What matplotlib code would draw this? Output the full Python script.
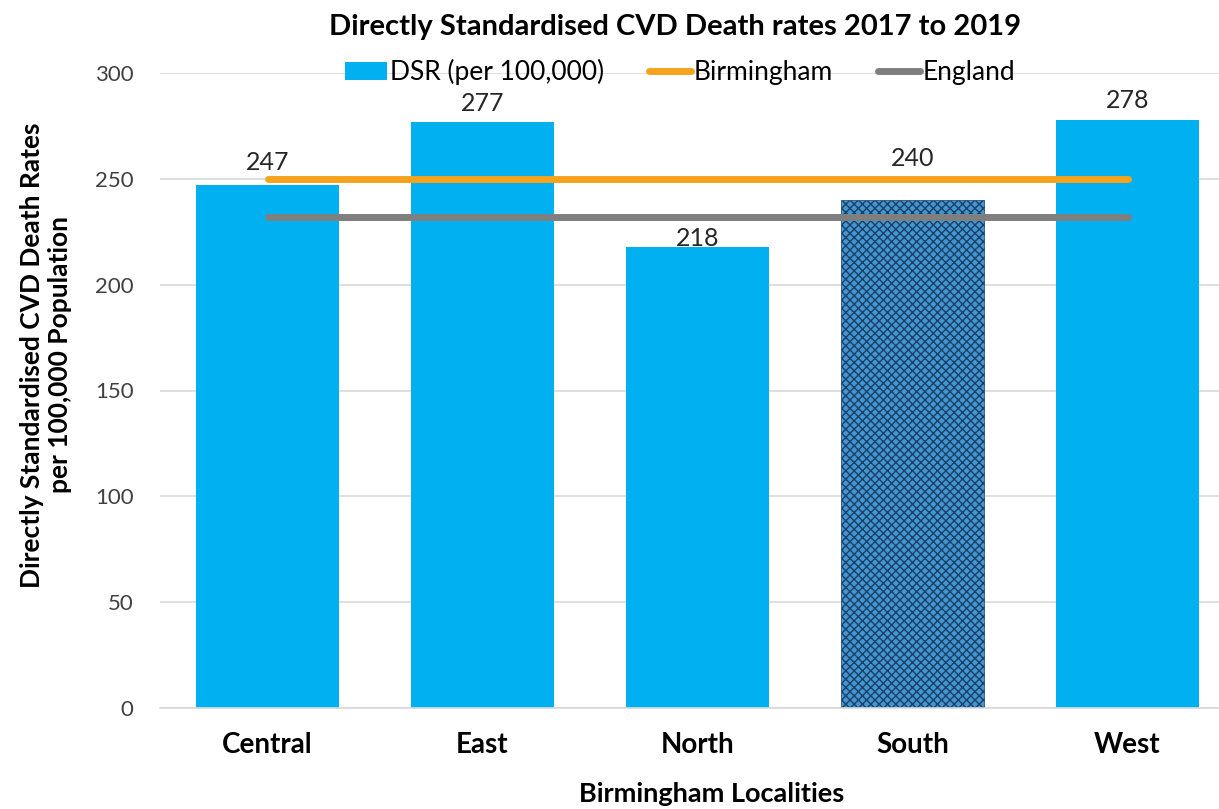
import matplotlib
matplotlib.use("Agg")
import matplotlib.pyplot as plt
import numpy as np

LOCALITIES = ["Central", "East", "North", "South", "West"]
DSR = [247, 277, 218, 240, 278]
BIRMINGHAM = [250, 250, 250, 250, 250]
ENGLAND = [232, 232, 232, 232, 232]
Y_TICKS = [0, 50, 100, 150, 200, 250, 300]

BAR_COLOR = "#00B0F0"
BHAM_COLOR = "#F5A31D"
ENG_COLOR = "#7F7F7F"
GRID_COLOR = "#D9D9D9"

# label offsets (points) so the text clears the reference lines
LABEL_OFFSETS = [16, 13, 6, 30, 14]

plt.rcParams["font.family"] = ["Lato", "DejaVu Sans"]

fig = plt.figure(figsize=(12.19, 8.09), dpi=100)
ax = fig.add_axes([160 / 1219, 1 - 708 / 809, 1 - 160 / 1219, (708 - 73) / 809])

x = np.arange(len(LOCALITIES))
width = 0.665
bars = ax.bar(x, DSR, width, color=BAR_COLOR, zorder=2, label="DSR (per 100,000)")
south = bars[LOCALITIES.index("South")]
south.set_facecolor("#4396CF")
south.set_edgecolor("#1B3F66")
south.set_hatch("xxxx")
south.set_linewidth(0.5)

ax.plot(x, BIRMINGHAM, color=BHAM_COLOR, lw=5, solid_capstyle="round",
        zorder=3, label="Birmingham")
ax.plot(x, ENGLAND, color=ENG_COLOR, lw=5, solid_capstyle="round",
        zorder=3, label="England")

for xi, val, off in zip(x, DSR, LABEL_OFFSETS):
    ax.annotate(f"{val}", xy=(xi, val), xytext=(0, off), textcoords="offset points",
                ha="center", va="center", fontsize=18, color="#262626", zorder=4)

ax.set_ylim(0, 300)
ax.set_xlim(-0.5, 4.5 - 16 / 215)
ax.set_yticks(Y_TICKS)
ax.set_yticklabels([str(t) for t in Y_TICKS], fontsize=16, color="#404040")
ax.set_xticks(x)
ax.set_xticklabels(LOCALITIES, fontsize=20, fontweight="bold", color="black")
ax.tick_params(axis="both", length=0)
ax.tick_params(axis="y", pad=19)
ax.tick_params(axis="x", pad=17)
ax.grid(axis="y", color=GRID_COLOR, lw=1.2, zorder=0)
ax.set_axisbelow(True)
for s in ["top", "right", "left"]:
    ax.spines[s].set_visible(False)
ax.spines["bottom"].set_color(GRID_COLOR)
ax.spines["bottom"].set_linewidth(1.2)

fig.text(712 / 1219, 1 - 794 / 809, "Birmingham Localities",
         ha="center", va="center", fontsize=19.5, fontweight="bold")
fig.text(46 / 1219, 1 - 355 / 809,
         "Directly Standardised CVD Death Rates\nper 100,000 Population",
         rotation=90, ha="center", va="center", fontsize=19, fontweight="bold",
         linespacing=1.2)

fig.text(675 / 1219, 1 - 27 / 809, "Directly Standardised CVD Death rates 2017 to 2019",
         ha="center", va="center", fontsize=21, fontweight="bold")

handles, labels = ax.get_legend_handles_labels()
order = [labels.index(l) for l in ["DSR (per 100,000)", "Birmingham", "England"]]
leg = ax.legend([handles[i] for i in order], [labels[i] for i in order],
                loc="center", ncol=3, frameon=False, fontsize=19,
                handlelength=1.6, handletextpad=0.1, columnspacing=1.7)
leg.set_bbox_to_anchor((680 / 1219, 1 - 72 / 809), transform=fig.transFigure)

fig.savefig("out.png", dpi=100)
